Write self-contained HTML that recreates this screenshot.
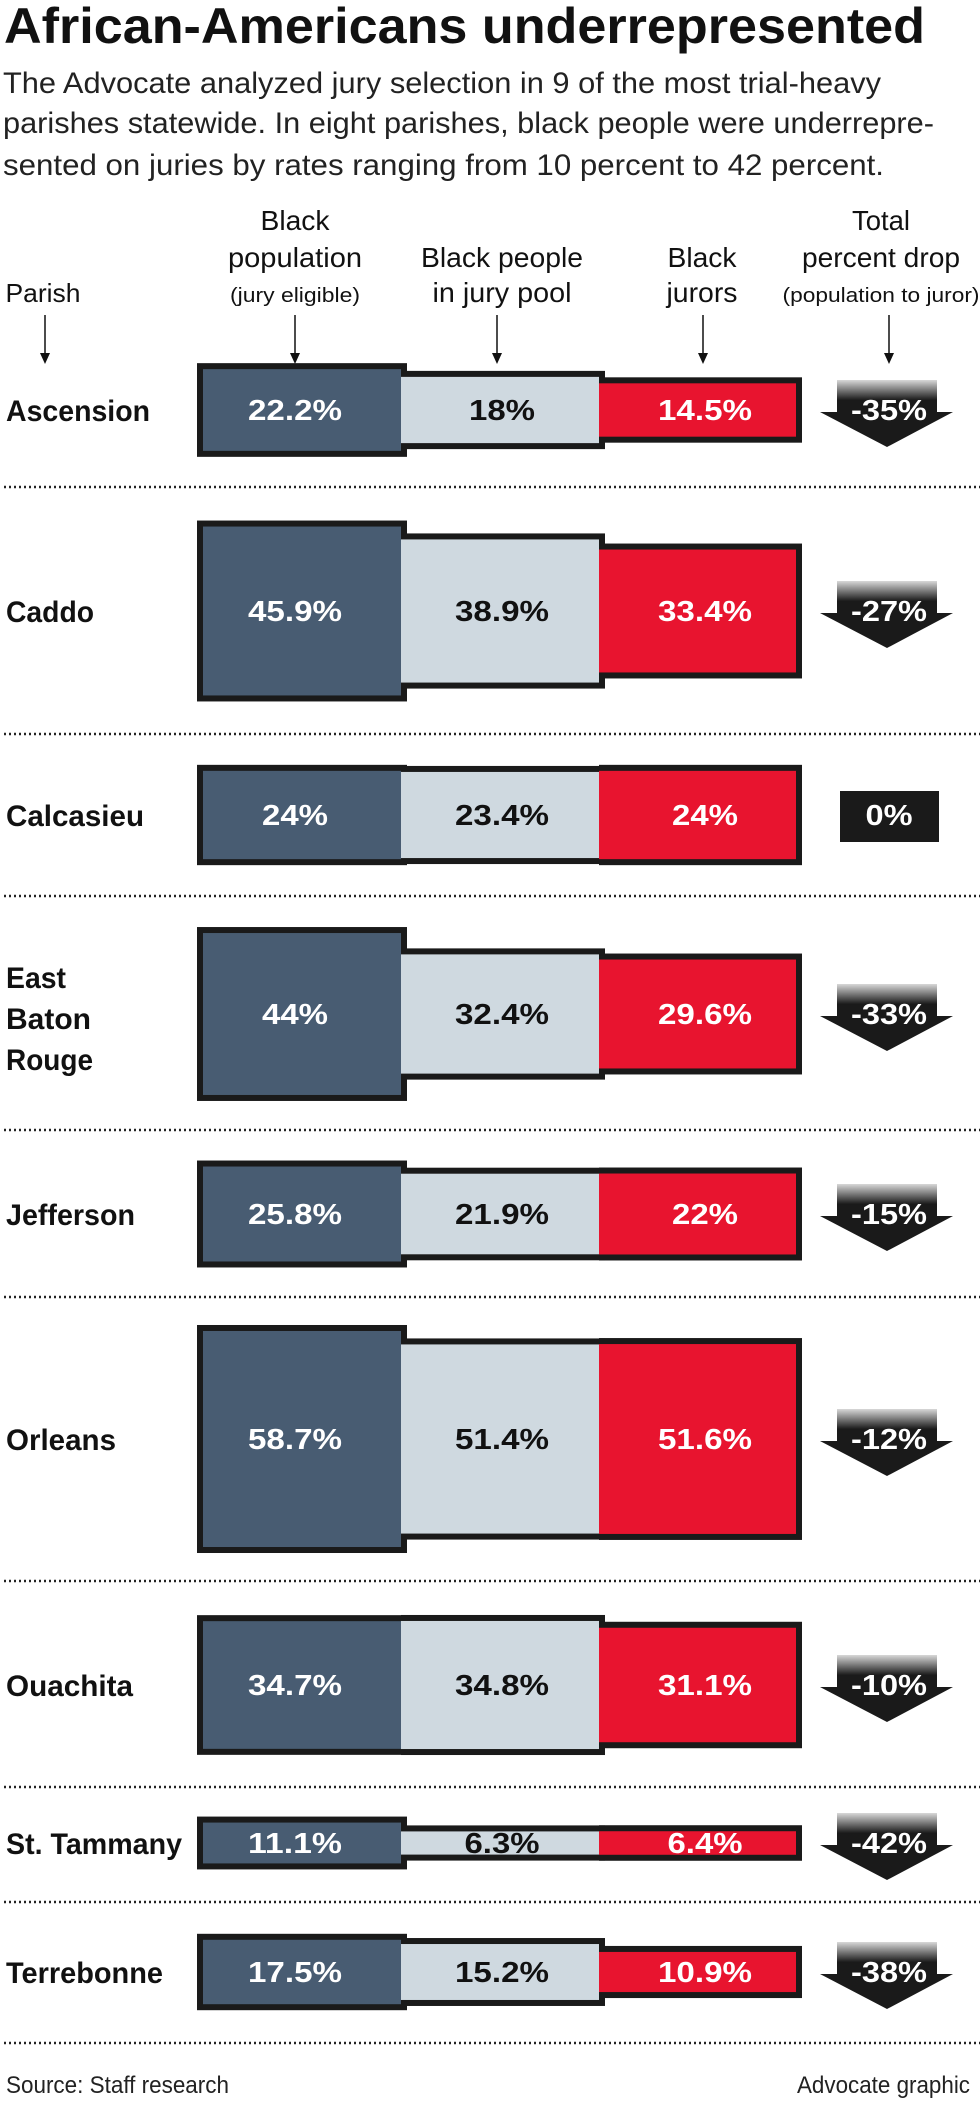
<!DOCTYPE html>
<html><head><meta charset="utf-8"><style>
html,body{margin:0;padding:0;background:#fff;}
svg{display:block;}
text{font-family:"Liberation Sans Narrow","Liberation Sans",sans-serif;}
</style></head><body>
<svg id="chart" width="980" height="2112" viewBox="0 0 980 2112" xmlns="http://www.w3.org/2000/svg">
<defs>
<linearGradient id="ag" x1="0" y1="0" x2="0" y2="1">
<stop offset="0" stop-color="#d8d8d8"/><stop offset="0.3" stop-color="#1a1a1a"/><stop offset="1" stop-color="#1a1a1a"/>
</linearGradient>
</defs>
<text x="4" y="43" font-size="50" font-weight="bold" fill="#111" textLength="921" lengthAdjust="spacingAndGlyphs">African-Americans underrepresented</text>
<g font-size="30" fill="#222">
<text x="3" y="93" textLength="878" lengthAdjust="spacingAndGlyphs">The Advocate analyzed jury selection in 9 of the most trial-heavy</text>
<text x="3" y="133" textLength="931" lengthAdjust="spacingAndGlyphs">parishes statewide. In eight parishes, black people were underrepre-</text>
<text x="3" y="175" textLength="881" lengthAdjust="spacingAndGlyphs">sented on juries by rates ranging from 10 percent to 42 percent.</text>
</g>
<g fill="#111" text-anchor="middle">
<text x="43" y="302" font-size="26" textLength="75" lengthAdjust="spacingAndGlyphs">Parish</text>
<text x="295" y="230" font-size="28" textLength="69" lengthAdjust="spacingAndGlyphs">Black</text>
<text x="295" y="267" font-size="28" textLength="134" lengthAdjust="spacingAndGlyphs">population</text>
<text x="295" y="302" font-size="20" textLength="130" lengthAdjust="spacingAndGlyphs">(jury eligible)</text>
<text x="502" y="267" font-size="28" textLength="162" lengthAdjust="spacingAndGlyphs">Black people</text>
<text x="502" y="302" font-size="28" textLength="139" lengthAdjust="spacingAndGlyphs">in jury pool</text>
<text x="702" y="267" font-size="28" textLength="69" lengthAdjust="spacingAndGlyphs">Black</text>
<text x="702" y="302" font-size="28" textLength="71" lengthAdjust="spacingAndGlyphs">jurors</text>
<text x="881" y="230" font-size="28" textLength="58" lengthAdjust="spacingAndGlyphs">Total</text>
<text x="881" y="267" font-size="28" textLength="158" lengthAdjust="spacingAndGlyphs">percent drop</text>
<text x="881" y="302" font-size="20" textLength="197" lengthAdjust="spacingAndGlyphs">(population to juror)</text>
</g>
<g id="hdr-arrows"></g>
<g id="rows"></g>
<text x="6" y="2093" font-size="24" fill="#222" textLength="223" lengthAdjust="spacingAndGlyphs">Source: Staff research</text>
<text x="970" y="2093" font-size="24" fill="#222" text-anchor="end" textLength="173" lengthAdjust="spacingAndGlyphs">Advocate graphic</text>
</svg>
<script>
const parishes = ["Ascension","Caddo","Calcasieu","East Baton Rouge","Jefferson","Orleans","Ouachita","St. Tammany","Terrebonne"];
const population = [22.2,45.9,24,44,25.8,58.7,34.7,11.1,17.5];
const pool = [18,38.9,23.4,32.4,21.9,51.4,34.8,6.3,15.2];
const jurors = [14.5,33.4,24,29.6,22,51.6,31.1,6.4,10.9];
const drop = [-35,-27,0,-33,-15,-12,-10,-42,-38];

const NS = "http://www.w3.org/2000/svg";
const rowCenters = [410,611,815,1014,1214,1439,1685,1843,1972];
const seps = [487,734,896,1130,1297,1581,1787,1902,2043];
const labelW = {"Ascension":144,"Caddo":88,"Calcasieu":138,"East":60,"Baton":85,"Rouge":87,"Jefferson":129,"Orleans":110,"Ouachita":127,"St. Tammany":176,"Terrebonne":157};
function hScale(v){ return 3.68*v + 12; }
function fmt(v){ return v + "%"; }
function tw(s){ let w=0; for(const c of s){ w += /[0-9]/.test(c)?19:(c=='.'?9:(c=='%'?28:10)); } return w; }
function mk(tag, attrs, parent){ const e=document.createElementNS(NS,tag); for(const k in attrs) e.setAttribute(k,attrs[k]); parent.appendChild(e); return e; }

const ha = document.getElementById('hdr-arrows');
[45,295,497,703,889].forEach(x=>{
  const g = mk('g',{},ha);
  
  
  mk('line',{x1:x,y1:315,x2:x,y2:355,stroke:'#111','stroke-width':1.5},g);
  mk('path',{d:`M${x-5},353 L${x+5},353 L${x},364 Z`,fill:'#111'},g);
});

const root = document.getElementById('rows');
const cols = [[197,407],[401,605],[599,802]];
const fills = ["#485c72","#cfd9e0","#e8142f"];
const txtCol = ["#fff","#111","#fff"];
const cx = [295,502,705];
parishes.forEach((p,i)=>{
  const c = rowCenters[i];
  const g = mk('g',{},root);
  
  
  const vals = [population[i],pool[i],jurors[i]];
  // label
  const lines = p==="East Baton Rouge" ? ["East","Baton","Rouge"] : [p];
  lines.forEach((ln,k)=>{
    const y = lines.length===1 ? c+11 : c-26+k*41;
    const t = mk('text',{x:6,y:y,'font-size':30,'font-weight':'bold',fill:'#111',textLength:labelW[ln],lengthAdjust:'spacingAndGlyphs'},g);
    
    
    t.textContent = ln;
  });
  // black outlines
  vals.forEach((v,j)=>{
    const h = hScale(v);
    const r = mk('rect',{x:cols[j][0],y:c-h/2,width:cols[j][1]-cols[j][0],height:h,fill:'#1a1a1a'},g);
    
    
  });
  vals.forEach((v,j)=>{
    const h = hScale(v);
    const x0 = j===0?203:cols[j][0];
    const x1 = j===2?796:cols[j][1]-(j===0?6:0);
    const xx1 = j===0?401:(j===1?599:796);
    const r = mk('rect',{x:x0,y:c-h/2+6,width:xx1-x0,height:Math.max(h-12,2),fill:fills[j]},g);
    
    
  });
  vals.forEach((v,j)=>{
    const s = fmt(v);
    const t = mk('text',{x:cx[j],y:c+10,'font-size':29,'font-weight':'bold',fill:txtCol[j],'text-anchor':'middle',textLength:tw(s),lengthAdjust:'spacingAndGlyphs'},g);
    
    
    t.textContent = s;
  });
  // drop indicator
  const d = drop[i];
  if(d===0){
    const b = mk('rect',{x:840,y:c-24,width:99,height:51,fill:'#1a1a1a'},g);
    
    
  } else {
    const a = mk('path',{d:`M837,${c-30} L937,${c-30} L937,${c+2} L953,${c+2} L887,${c+37} L820,${c+2} L837,${c+2} Z`,fill:'url(#ag)'},g);
    
    
  }
  const s = d + "%";
  const t = mk('text',{x:889,y:c+10,'font-size':29,'font-weight':'bold',fill:'#fff','text-anchor':'middle',textLength:tw(s),lengthAdjust:'spacingAndGlyphs'},g);
  
  
  t.textContent = s;
  const sp = mk('line',{x1:4,y1:seps[i],x2:980,y2:seps[i],stroke:'#222','stroke-width':2.5,'stroke-dasharray':'2 3'},g);
  
  
});
</script>
</body></html>
